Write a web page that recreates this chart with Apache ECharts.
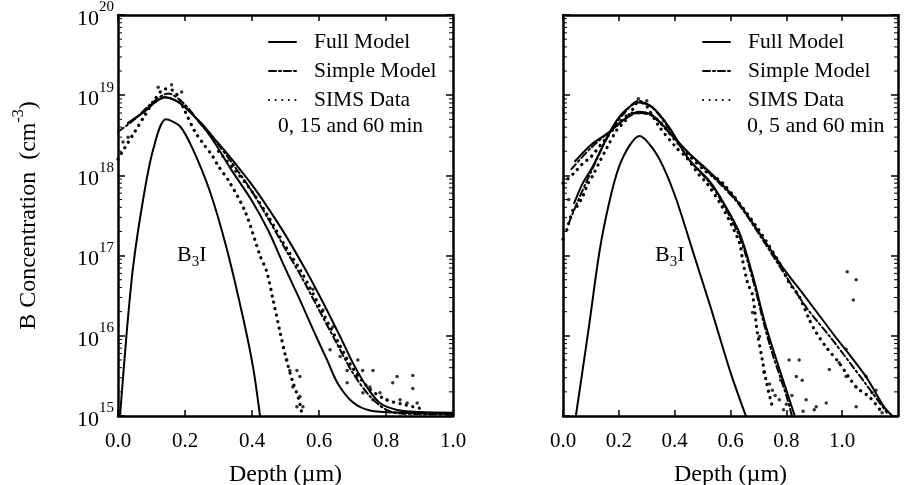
<!DOCTYPE html>
<html><head><meta charset="utf-8">
<script src="https://cdn.jsdelivr.net/npm/echarts@6/dist/echarts.min.js"></script>
<style>html,body{margin:0;padding:0;background:#fff}#c{width:907px;height:485px}</style>
</head><body><div id="c"></div>
<script>
// ---------- LEFT PANEL (0, 15 and 60 min) ----------
const leftFull60 = [[0.03,4.5e18],[0.08,6.3e18],[0.11,8.1e18],[0.14,9.4e18],[0.17,8.7e18],[0.2,7.1e18],[0.25,4.4e18],[0.29,2.8e18],[0.334,1.7e18],[0.4,7.6e17],[0.45,3.8e17],[0.5,1.8e17],[0.564,6.2e16],[0.612,2.6e16],[0.663,9.8e15],[0.701,4.6e15],[0.743,2.3e15],[0.782,1.45e15],[0.833,1.19e15],[0.9,1.12e15],[1.0,1.1e15]];
const leftFull15 = [[0.03,4.5e18],[0.08,6.3e18],[0.11,8.1e18],[0.14,9.4e18],[0.17,8.7e18],[0.2,7.1e18],[0.25,4.3e18],[0.29,2.5e18],[0.334,1.25e18],[0.4,4.8e17],[0.45,2.0e17],[0.493,7.9e16],[0.543,2.8e16],[0.582,1.2e16],[0.624,5.0e15],[0.657,2.5e15],[0.701,1.48e15],[0.752,1.17e15],[0.85,1.1e15],[1.0,1.07e15]];
const leftB3I = [[0.006,1.0e15],[0.026,1.1e16],[0.045,7.2e16],[0.075,5.0e17],[0.105,2.1e18],[0.143,5.0e18],[0.185,4.1e18],[0.224,2.1e18],[0.275,6.2e17],[0.325,1.2e17],[0.373,1.7e16],[0.403,4.1e15],[0.424,1.0e15]];
const leftSimple = [[0.0,3.5e18],[0.05,5.0e18],[0.1,7.9e18],[0.15,1.05e19],[0.2,7.6e18],[0.25,4.2e18],[0.3,2.4e18],[0.35,1.26e18],[0.4,6.3e17],[0.45,2.8e17],[0.5,1.2e17],[0.55,5.2e16],[0.6,2.1e16],[0.65,8.5e15],[0.7,3.5e15],[0.75,1.8e15],[0.8,1.2e15],[0.85,1.07e15],[1.0,1.05e15]];
const leftSims0 = [[0.0,1.6e18],[0.02,2.2e18],[0.05,3.5e18],[0.08,5.6e18],[0.11,8.9e18],[0.14,1.2e19],[0.17,1.1e19],[0.2,6.3e18],[0.23,3.5e18],[0.254,2.5e18],[0.28,1.8e18],[0.3,1.3e18],[0.334,8.1e17],[0.38,3.5e17],[0.424,1.0e17],[0.444,6.3e16],[0.463,2.8e16],[0.484,1.1e16],[0.5,5.6e15],[0.52,2.8e15],[0.54,1.6e15],[0.55,1.0e15]];
const leftSims60 = [[0.3,2.0e18],[0.35,1.15e18],[0.4,6.3e17],[0.45,3.0e17],[0.5,1.3e17],[0.55,6.0e16],[0.6,2.4e16],[0.65,9.5e15],[0.7,4.0e15],[0.75,2.2e15],[0.8,1.6e15],[0.85,1.4e15],[0.9,1.25e15]];
const leftSimsScatter = [[0.88,3.2e15],[0.88,2.2e15],[0.833,3.1e15],[0.82,2.6e15],[0.761,3.7e15],[0.716,5.0e15],[0.73,3.7e15],[0.713,3.1e15],[0.752,2.3e15],[0.782,1.95e15],[0.803,1.6e15],[0.842,1.6e15],[0.863,1.45e15],[0.893,1.45e15],[0.504,5.0e15],[0.513,3.7e15],[0.534,3.7e15],[0.543,3.1e15],[0.522,2.3e15],[0.543,1.75e15],[0.534,1.3e15],[0.552,1.3e15],[0.582,3.8e16],[0.612,2.1e16],[0.642,1.3e16],[0.633,6.7e15],[0.663,5.5e15],[0.684,3.7e15],[0.684,2.6e15],[0.731,1.95e15],[0.761,1.6e15],[0.12,1.26e19],[0.16,1.35e19],[0.19,1.1e19],[0.015,2.6e18],[0.03,3.0e18]];

// ---------- RIGHT PANEL (0, 5 and 60 min) ----------
const rightFull60 = [[0.043,1.5e18],[0.1,2.4e18],[0.168,3.5e18],[0.22,5.0e18],[0.27,6.2e18],[0.32,5.6e18],[0.38,3.5e18],[0.45,1.9e18],[0.52,1.15e18],[0.62,5.0e17],[0.7,2.0e17],[0.786,7.2e16],[0.87,3.0e16],[0.964,1.1e16],[1.085,3.1e15],[1.15,1.3e15],[1.18,1.0e15]];
const rightFull5 = [[0.04,4.5e17],[0.07,7.9e17],[0.107,1.3e18],[0.168,3.5e18],[0.214,6.0e18],[0.27,8.1e18],[0.32,7.1e18],[0.38,4.0e18],[0.45,1.6e18],[0.52,8.9e17],[0.56,5.6e17],[0.63,2.0e17],[0.68,5.6e16],[0.72,1.6e16],[0.75,7.2e15],[0.8,2.1e15],[0.83,1.0e15]];
const rightB3I = [[0.046,1.0e15],[0.09,1.1e16],[0.132,1.2e17],[0.168,5.0e17],[0.2,1.26e18],[0.24,2.4e18],[0.275,3.1e18],[0.32,2.2e18],[0.36,1.26e18],[0.406,5.0e17],[0.47,1.0e17],[0.53,2.2e16],[0.6,3.5e15],[0.655,1.0e15]];
const rightSimple60 = [[0.03,1.2e18],[0.1,2.2e18],[0.17,3.6e18],[0.22,5.0e18],[0.27,6.0e18],[0.32,5.5e18],[0.38,3.4e18],[0.45,1.9e18],[0.52,1.1e18],[0.62,4.8e17],[0.7,1.9e17],[0.786,6.5e16],[0.87,2.3e16],[0.964,9.0e15],[1.085,2.5e15],[1.16,1.1e15]];
const rightSimple5 = [[0.02,2.5e17],[0.05,4.5e17],[0.1,1.1e18],[0.17,3.5e18],[0.22,6.0e18],[0.27,8.5e18],[0.32,7.0e18],[0.38,3.8e18],[0.45,1.6e18],[0.52,8.5e17],[0.56,5.3e17],[0.63,1.8e17],[0.68,5.0e16],[0.72,1.4e16],[0.75,6.0e15],[0.8,1.8e15],[0.82,1.0e15]];
const rightSims5 = [[0.014,2.1e17],[0.037,3.8e17],[0.05,4.1e17],[0.071,5.5e17],[0.089,7.8e17],[0.107,1.0e18],[0.132,1.5e18],[0.157,2.2e18],[0.193,3.7e18],[0.221,4.7e18],[0.25,6.7e18],[0.268,8.1e18],[0.293,7.8e18],[0.311,6.3e18],[0.346,4.0e18],[0.407,2.2e18],[0.443,1.66e18],[0.489,1.0e18],[0.514,8.1e17],[0.571,4.0e17],[0.632,1.45e17],[0.643,8.9e16],[0.661,4.6e16],[0.679,3.2e16],[0.696,1.1e16],[0.714,5.0e15],[0.729,2.6e15],[0.75,1.3e15]];
const rightSims60 = [[0.0,8.0e17],[0.043,1.1e18],[0.07,1.4e18],[0.1,1.7e18],[0.15,2.8e18],[0.2,4.5e18],[0.25,6.0e18],[0.3,6.0e18],[0.35,4.5e18],[0.4,2.8e18],[0.45,1.8e18],[0.514,1.1e18],[0.571,8.1e17],[0.693,2.3e17],[0.775,8.1e16],[0.81,4.6e16],[0.846,3.1e16],[0.882,1.6e16],[0.907,1.1e16],[0.943,7.2e15],[0.989,4.6e15],[1.05,2.3e15],[1.1,1.7e15],[1.143,1.1e15]];
const rightSimsScatter = [[0.679,1.95e16],[0.704,9.8e15],[0.81,5.0e15],[0.846,5.0e15],[0.836,3.1e15],[0.857,2.8e15],[0.871,1.6e15],[0.907,1.3e15],[0.943,1.45e15],[0.775,1.6e15],[0.75,2.1e15],[0.954,3.8e15],[0.989,4.6e15],[1.014,6.8e15],[1.014,3.1e15],[1.05,2.3e15],[1.086,3.1e15],[1.107,1.95e15],[1.121,2.1e15],[1.05,1.3e15],[1.143,1.1e15],[1.018,6.3e16],[1.05,5.0e16],[1.04,2.8e16],[0.72,3.5e15],[0.74,2.5e15],[0.76,1.8e15],[0.78,2.8e15],[0.8,1.4e15],[0.82,1.8e15],[0.79,1.2e15],[0.86,1.15e15],[0.9,1.2e15],[0.0,1.6e17],[0.02,5.0e17],[0.27,9.0e18],[0.3,8.5e18]];

// ---------- axis ticks / labels ----------
const legendNames = ['Full Model','Simple Model','SIMS Data'];
const minorMultipliers = [2,3,4,5,6,7,8,9];
const decades = [1e15,1e16,1e17,1e18,1e19];
const leftXMax = 1.0, rightXMax = 1.2, xInterval = 0.2;
const yMin = 1e15, yMax = 1e20;

const FONT = "'Liberation Serif','DejaVu Serif',serif";
const minorTickValues = [];
decades.forEach(d => minorMultipliers.forEach(m => minorTickValues.push(m * d)));

function minorTickSeries(idx, xmin, xmax) {
  return {
    type: 'custom', name: 'minorTicks', xAxisIndex: idx, yAxisIndex: idx, silent: true, z: 6,
    data: minorTickValues.map(v => [xmin, v]),
    renderItem: function (params, api) {
      const v = api.value(1);
      const pL = api.coord([xmin, v]);
      const pR = api.coord([xmax, v]);
      return { type: 'group', children: [
        { type: 'line', shape: { x1: pL[0], y1: pL[1], x2: pL[0] + 4, y2: pL[1] }, style: { stroke: '#000', lineWidth: 1 } },
        { type: 'line', shape: { x1: pR[0] - 4, y1: pR[1], x2: pR[0], y2: pR[1] }, style: { stroke: '#000', lineWidth: 1 } }
      ]};
    }
  };
}

const SOLID = 'solid', DASHDOT = [7, 3, 2, 3], DOTS = [0.1, 6.5];
function lineS(name, data, idx, type, width) {
  return { type: 'line', name: name, data: data, xAxisIndex: idx, yAxisIndex: idx, symbol: 'none', showSymbol: false,
    smooth: 0.3, lineStyle: { color: '#000', width: width, type: type, cap: 'round' }, itemStyle: { color: '#000' }, z: 3 };
}
function scatterS(data, idx) {
  return { type: 'scatter', name: 'SIMS Data', data: data, xAxisIndex: idx, yAxisIndex: idx,
    symbol: 'circle', symbolSize: 3.5, itemStyle: { color: '#000' }, z: 2 };
}

const axisLineStyle = { show: true, onZero: false, lineStyle: { color: '#000', width: 2.5 } };
function xAxisPair(gridIndex, max) {
  const base = { type: 'value', gridIndex: gridIndex, min: 0, max: max, interval: xInterval,
    axisLine: axisLineStyle, splitLine: { show: false },
    axisTick: { show: true, inside: true, length: 6, lineStyle: { color: '#000', width: 1.5 } } };
  return [
    Object.assign({}, base, { position: 'bottom',
      axisLabel: { show: true, color: '#000', fontFamily: FONT, fontSize: 21, margin: 15,
        showMaxLabel: max === leftXMax, formatter: v => v.toFixed(1) },
      name: 'Depth (µm)', nameLocation: 'middle', nameGap: 47,
      nameTextStyle: { color: '#000', fontFamily: FONT, fontSize: 24 } }),
    Object.assign({}, base, { position: 'top', axisLabel: { show: false } })
  ];
}
function yAxisPair(gridIndex, showLabels) {
  const base = { type: 'log', logBase: 10, gridIndex: gridIndex, min: yMin, max: yMax,
    axisLine: axisLineStyle, splitLine: { show: false }, minorTick: { show: false },
    axisTick: { show: true, inside: true, length: 7, lineStyle: { color: '#000', width: 1.5 } } };
  const left = Object.assign({}, base, { position: 'left',
    axisLabel: showLabels ? { show: true, margin: 4, color: '#000',
      formatter: v => '{b|10}{s|' + Math.round(Math.log10(v)) + '}',
      rich: { b: { fontFamily: FONT, fontSize: 22, lineHeight: 30, verticalAlign: 'bottom', color: '#000' },
              s: { fontFamily: FONT, fontSize: 15, lineHeight: 17, verticalAlign: 'top', color: '#000' } } } : { show: false } });
  if (showLabels) {
    left.name = '{a|B Concentration  (cm}{s|-3}{a|)}';
    left.nameLocation = 'middle';
    left.nameGap = 77;
    left.nameTextStyle = { rich: {
      a: { fontFamily: FONT, fontSize: 24, lineHeight: 30, verticalAlign: 'bottom', color: '#000' },
      s: { fontFamily: FONT, fontSize: 16, lineHeight: 17, verticalAlign: 'top', color: '#000' } } };
  }
  return [left, Object.assign({}, base, { position: 'right', axisLabel: { show: false } })];
}

function legendAt(left) {
  return { data: legendNames, orient: 'vertical', left: left, top: 26, itemWidth: 27, itemHeight: 14, itemGap: 7,
    selectedMode: false, itemStyle: { opacity: 0 },
    textStyle: { color: '#000', fontFamily: FONT, fontSize: 21.5, padding: [0, 0, 0, 13] } };
}

const richB3I = { a: { fontFamily: FONT, fontSize: 22, lineHeight: 26, verticalAlign: 'top', fill: '#000', color: '#000' },
                  b: { fontFamily: FONT, fontSize: 15, lineHeight: 16, verticalAlign: 'bottom', fill: '#000', color: '#000' } };

const option = {
  backgroundColor: '#fff',
  animation: false,
  grid: [
    { left: 118, top: 15, width: 335, height: 401, containLabel: false, outerBoundsMode: 'none' },
    { left: 563, top: 15, width: 335, height: 401, containLabel: false, outerBoundsMode: 'none' }
  ],
  xAxis: xAxisPair(0, leftXMax).concat(xAxisPair(1, rightXMax)),
  yAxis: yAxisPair(0, true).concat(yAxisPair(1, false)),
  legend: [legendAt(263), legendAt(697)],
  graphic: [
    { type: 'text', x: 278, y: 126, style: { text: '0, 15 and 60 min', fontFamily: FONT, fontSize: 21.5, fill: '#000', verticalAlign: 'middle' } },
    { type: 'text', x: 747, y: 126, style: { text: '0, 5 and 60 min', fontFamily: FONT, fontSize: 22, fill: '#000', verticalAlign: 'middle' } },
    { type: 'text', x: 177, y: 257, style: { text: '{a|B}{b|3}{a|I}', rich: richB3I, verticalAlign: 'middle' } },
    { type: 'text', x: 655, y: 257, style: { text: '{a|B}{b|3}{a|I}', rich: richB3I, verticalAlign: 'middle' } }
  ],
  series: [
    lineS('Full Model', leftFull60, 0, SOLID, 2),
    lineS('Full Model', leftFull15, 0, SOLID, 2),
    lineS('B3I', leftB3I, 0, SOLID, 2),
    lineS('Simple Model', leftSimple, 0, DASHDOT, 2),
    lineS('SIMS Data', leftSims0, 0, DOTS, 3.2),
    lineS('SIMS Data', leftSims60, 0, DOTS, 3.2),
    scatterS(leftSimsScatter, 0),
    lineS('Full Model', rightFull60, 2, SOLID, 2),
    lineS('Full Model', rightFull5, 2, SOLID, 2),
    lineS('B3I', rightB3I, 2, SOLID, 2),
    lineS('Simple Model', rightSimple60, 2, DASHDOT, 2),
    lineS('Simple Model', rightSimple5, 2, DASHDOT, 2),
    lineS('SIMS Data', rightSims5, 2, DOTS, 3.2),
    lineS('SIMS Data', rightSims60, 2, DOTS, 3.2),
    scatterS(rightSimsScatter, 2),
    minorTickSeries(0, 0, leftXMax),
    minorTickSeries(2, 0, rightXMax)
  ]
};
const chart = echarts.init(document.getElementById('c'), null, { renderer: 'canvas' });
chart.setOption(option);
</script></body></html>
